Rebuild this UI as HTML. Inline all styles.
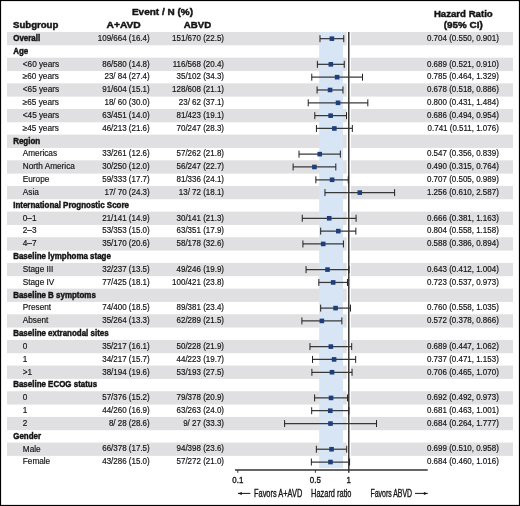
<!DOCTYPE html>
<html><head><meta charset="utf-8"><style>
html,body{margin:0;padding:0;background:#fff;}
svg text{}
body{width:520px;height:506px;position:relative;overflow:hidden;font-family:"Liberation Sans", sans-serif;}
</style></head><body>
<svg width="520" height="506" viewBox="0 0 520 506" style="position:absolute;left:0;top:0">
<rect x="7" y="32.00" width="506" height="13.30" fill="#e0e0e2"/>
<rect x="7" y="57.66" width="506" height="13.30" fill="#e0e0e2"/>
<rect x="7" y="83.32" width="506" height="13.30" fill="#e0e0e2"/>
<rect x="7" y="108.98" width="506" height="13.30" fill="#e0e0e2"/>
<rect x="7" y="134.64" width="506" height="13.30" fill="#e0e0e2"/>
<rect x="7" y="160.30" width="506" height="13.30" fill="#e0e0e2"/>
<rect x="7" y="185.96" width="506" height="13.30" fill="#e0e0e2"/>
<rect x="7" y="211.62" width="506" height="13.30" fill="#e0e0e2"/>
<rect x="7" y="237.28" width="506" height="13.30" fill="#e0e0e2"/>
<rect x="7" y="262.94" width="506" height="13.30" fill="#e0e0e2"/>
<rect x="7" y="288.60" width="506" height="13.30" fill="#e0e0e2"/>
<rect x="7" y="314.26" width="506" height="13.30" fill="#e0e0e2"/>
<rect x="7" y="339.92" width="506" height="13.30" fill="#e0e0e2"/>
<rect x="7" y="365.58" width="506" height="13.30" fill="#e0e0e2"/>
<rect x="7" y="391.24" width="506" height="13.30" fill="#e0e0e2"/>
<rect x="7" y="416.90" width="506" height="13.30" fill="#e0e0e2"/>
<rect x="7" y="442.56" width="506" height="13.30" fill="#e0e0e2"/>
<rect x="346.70" y="32.0" width="4.20" height="436.22" fill="#fff"/>
<rect x="319.18" y="32.0" width="23.79" height="436.22" fill="#d8e5f5"/>
<line x1="348.80" y1="32.0" x2="348.80" y2="472.80" stroke="#1a1a1a" stroke-width="1.3"/>
<line x1="235" y1="470" x2="427.7" y2="470" stroke="#333" stroke-width="1.5"/>
<line x1="237.80" y1="470" x2="237.80" y2="472.80" stroke="#333" stroke-width="1"/>
<line x1="315.39" y1="470" x2="315.39" y2="472.80" stroke="#333" stroke-width="1"/>
<line x1="319.98" y1="38.66" x2="343.77" y2="38.66" stroke="#383838" stroke-width="1.25"/>
<line x1="319.98" y1="35.16" x2="319.98" y2="42.16" stroke="#222" stroke-width="1.0"/>
<line x1="343.77" y1="35.16" x2="343.77" y2="42.16" stroke="#222" stroke-width="1.0"/>
<rect x="329.58" y="36.37" width="4.6" height="4.6" fill="#1f3e7c"/>
<line x1="317.37" y1="64.33" x2="344.25" y2="64.33" stroke="#383838" stroke-width="1.25"/>
<line x1="317.37" y1="60.83" x2="317.37" y2="67.83" stroke="#222" stroke-width="1.0"/>
<line x1="344.25" y1="60.83" x2="344.25" y2="67.83" stroke="#222" stroke-width="1.0"/>
<rect x="328.54" y="62.03" width="4.6" height="4.6" fill="#1f3e7c"/>
<line x1="311.78" y1="77.16" x2="362.51" y2="77.16" stroke="#383838" stroke-width="1.25"/>
<line x1="311.78" y1="73.66" x2="311.78" y2="80.66" stroke="#222" stroke-width="1.0"/>
<line x1="362.51" y1="73.66" x2="362.51" y2="80.66" stroke="#222" stroke-width="1.0"/>
<rect x="334.83" y="74.86" width="4.6" height="4.6" fill="#1f3e7c"/>
<line x1="317.09" y1="89.98" x2="342.97" y2="89.98" stroke="#383838" stroke-width="1.25"/>
<line x1="317.09" y1="86.48" x2="317.09" y2="93.48" stroke="#222" stroke-width="1.0"/>
<line x1="342.97" y1="86.48" x2="342.97" y2="93.48" stroke="#222" stroke-width="1.0"/>
<rect x="327.77" y="87.69" width="4.6" height="4.6" fill="#1f3e7c"/>
<line x1="308.23" y1="102.82" x2="367.83" y2="102.82" stroke="#383838" stroke-width="1.25"/>
<line x1="308.23" y1="99.32" x2="308.23" y2="106.32" stroke="#222" stroke-width="1.0"/>
<line x1="367.83" y1="99.32" x2="367.83" y2="106.32" stroke="#222" stroke-width="1.0"/>
<rect x="335.74" y="100.52" width="4.6" height="4.6" fill="#1f3e7c"/>
<line x1="314.80" y1="115.65" x2="346.53" y2="115.65" stroke="#383838" stroke-width="1.25"/>
<line x1="314.80" y1="112.15" x2="314.80" y2="119.15" stroke="#222" stroke-width="1.0"/>
<line x1="346.53" y1="112.15" x2="346.53" y2="119.15" stroke="#222" stroke-width="1.0"/>
<rect x="328.33" y="113.35" width="4.6" height="4.6" fill="#1f3e7c"/>
<line x1="316.43" y1="128.47" x2="352.33" y2="128.47" stroke="#383838" stroke-width="1.25"/>
<line x1="316.43" y1="124.97" x2="316.43" y2="131.97" stroke="#222" stroke-width="1.0"/>
<line x1="352.33" y1="124.97" x2="352.33" y2="131.97" stroke="#222" stroke-width="1.0"/>
<rect x="332.05" y="126.17" width="4.6" height="4.6" fill="#1f3e7c"/>
<line x1="299.01" y1="154.13" x2="340.34" y2="154.13" stroke="#383838" stroke-width="1.25"/>
<line x1="299.01" y1="150.63" x2="299.01" y2="157.63" stroke="#222" stroke-width="1.0"/>
<line x1="340.34" y1="150.63" x2="340.34" y2="157.63" stroke="#222" stroke-width="1.0"/>
<rect x="317.42" y="151.83" width="4.6" height="4.6" fill="#1f3e7c"/>
<line x1="293.11" y1="166.97" x2="335.82" y2="166.97" stroke="#383838" stroke-width="1.25"/>
<line x1="293.11" y1="163.47" x2="293.11" y2="170.47" stroke="#222" stroke-width="1.0"/>
<line x1="335.82" y1="163.47" x2="335.82" y2="170.47" stroke="#222" stroke-width="1.0"/>
<rect x="312.11" y="164.66" width="4.6" height="4.6" fill="#1f3e7c"/>
<line x1="315.87" y1="179.79" x2="348.27" y2="179.79" stroke="#383838" stroke-width="1.25"/>
<line x1="315.87" y1="176.29" x2="315.87" y2="183.29" stroke="#222" stroke-width="1.0"/>
<line x1="348.27" y1="176.29" x2="348.27" y2="183.29" stroke="#222" stroke-width="1.0"/>
<rect x="329.79" y="177.49" width="4.6" height="4.6" fill="#1f3e7c"/>
<line x1="324.97" y1="192.62" x2="394.62" y2="192.62" stroke="#383838" stroke-width="1.25"/>
<line x1="324.97" y1="189.12" x2="324.97" y2="196.12" stroke="#222" stroke-width="1.0"/>
<line x1="394.62" y1="189.12" x2="394.62" y2="196.12" stroke="#222" stroke-width="1.0"/>
<rect x="357.49" y="190.32" width="4.6" height="4.6" fill="#1f3e7c"/>
<line x1="302.28" y1="218.28" x2="356.08" y2="218.28" stroke="#383838" stroke-width="1.25"/>
<line x1="302.28" y1="214.78" x2="302.28" y2="221.78" stroke="#222" stroke-width="1.0"/>
<line x1="356.08" y1="214.78" x2="356.08" y2="221.78" stroke="#222" stroke-width="1.0"/>
<rect x="326.91" y="215.98" width="4.6" height="4.6" fill="#1f3e7c"/>
<line x1="320.68" y1="231.11" x2="355.87" y2="231.11" stroke="#383838" stroke-width="1.25"/>
<line x1="320.68" y1="227.61" x2="320.68" y2="234.61" stroke="#222" stroke-width="1.0"/>
<line x1="355.87" y1="227.61" x2="355.87" y2="234.61" stroke="#222" stroke-width="1.0"/>
<rect x="335.98" y="228.81" width="4.6" height="4.6" fill="#1f3e7c"/>
<line x1="302.91" y1="243.94" x2="343.40" y2="243.94" stroke="#383838" stroke-width="1.25"/>
<line x1="302.91" y1="240.44" x2="302.91" y2="247.44" stroke="#222" stroke-width="1.0"/>
<line x1="343.40" y1="240.44" x2="343.40" y2="247.44" stroke="#222" stroke-width="1.0"/>
<rect x="320.90" y="241.64" width="4.6" height="4.6" fill="#1f3e7c"/>
<line x1="306.05" y1="269.61" x2="348.99" y2="269.61" stroke="#383838" stroke-width="1.25"/>
<line x1="306.05" y1="266.11" x2="306.05" y2="273.11" stroke="#222" stroke-width="1.0"/>
<line x1="348.99" y1="266.11" x2="348.99" y2="273.11" stroke="#222" stroke-width="1.0"/>
<rect x="325.21" y="267.31" width="4.6" height="4.6" fill="#1f3e7c"/>
<line x1="318.83" y1="282.44" x2="347.48" y2="282.44" stroke="#383838" stroke-width="1.25"/>
<line x1="318.83" y1="278.94" x2="318.83" y2="285.94" stroke="#222" stroke-width="1.0"/>
<line x1="347.48" y1="278.94" x2="347.48" y2="285.94" stroke="#222" stroke-width="1.0"/>
<rect x="330.86" y="280.13" width="4.6" height="4.6" fill="#1f3e7c"/>
<line x1="320.68" y1="308.10" x2="350.46" y2="308.10" stroke="#383838" stroke-width="1.25"/>
<line x1="320.68" y1="304.60" x2="320.68" y2="311.60" stroke="#222" stroke-width="1.0"/>
<line x1="350.46" y1="304.60" x2="350.46" y2="311.60" stroke="#222" stroke-width="1.0"/>
<rect x="333.27" y="305.80" width="4.6" height="4.6" fill="#1f3e7c"/>
<line x1="301.90" y1="320.93" x2="341.86" y2="320.93" stroke="#383838" stroke-width="1.25"/>
<line x1="301.90" y1="317.43" x2="301.90" y2="324.43" stroke="#222" stroke-width="1.0"/>
<line x1="341.86" y1="317.43" x2="341.86" y2="324.43" stroke="#222" stroke-width="1.0"/>
<rect x="319.57" y="318.62" width="4.6" height="4.6" fill="#1f3e7c"/>
<line x1="309.98" y1="346.59" x2="351.70" y2="346.59" stroke="#383838" stroke-width="1.25"/>
<line x1="309.98" y1="343.09" x2="309.98" y2="350.09" stroke="#222" stroke-width="1.0"/>
<line x1="351.70" y1="343.09" x2="351.70" y2="350.09" stroke="#222" stroke-width="1.0"/>
<rect x="328.54" y="344.29" width="4.6" height="4.6" fill="#1f3e7c"/>
<line x1="312.51" y1="359.42" x2="355.66" y2="359.42" stroke="#383838" stroke-width="1.25"/>
<line x1="312.51" y1="355.92" x2="312.51" y2="362.92" stroke="#222" stroke-width="1.0"/>
<line x1="355.66" y1="355.92" x2="355.66" y2="362.92" stroke="#222" stroke-width="1.0"/>
<rect x="331.79" y="357.12" width="4.6" height="4.6" fill="#1f3e7c"/>
<line x1="311.89" y1="372.25" x2="352.06" y2="372.25" stroke="#383838" stroke-width="1.25"/>
<line x1="311.89" y1="368.75" x2="311.89" y2="375.75" stroke="#222" stroke-width="1.0"/>
<line x1="352.06" y1="368.75" x2="352.06" y2="375.75" stroke="#222" stroke-width="1.0"/>
<rect x="329.72" y="369.94" width="4.6" height="4.6" fill="#1f3e7c"/>
<line x1="314.61" y1="397.91" x2="347.48" y2="397.91" stroke="#383838" stroke-width="1.25"/>
<line x1="314.61" y1="394.41" x2="314.61" y2="401.41" stroke="#222" stroke-width="1.0"/>
<line x1="347.48" y1="394.41" x2="347.48" y2="401.41" stroke="#222" stroke-width="1.0"/>
<rect x="328.75" y="395.61" width="4.6" height="4.6" fill="#1f3e7c"/>
<line x1="311.68" y1="410.74" x2="348.85" y2="410.74" stroke="#383838" stroke-width="1.25"/>
<line x1="311.68" y1="407.24" x2="311.68" y2="414.24" stroke="#222" stroke-width="1.0"/>
<line x1="348.85" y1="407.24" x2="348.85" y2="414.24" stroke="#222" stroke-width="1.0"/>
<rect x="327.98" y="408.44" width="4.6" height="4.6" fill="#1f3e7c"/>
<line x1="284.60" y1="423.56" x2="376.52" y2="423.56" stroke="#383838" stroke-width="1.25"/>
<line x1="284.60" y1="420.06" x2="284.60" y2="427.06" stroke="#222" stroke-width="1.0"/>
<line x1="376.52" y1="420.06" x2="376.52" y2="427.06" stroke="#222" stroke-width="1.0"/>
<rect x="328.19" y="421.26" width="4.6" height="4.6" fill="#1f3e7c"/>
<line x1="316.34" y1="449.23" x2="346.73" y2="449.23" stroke="#383838" stroke-width="1.25"/>
<line x1="316.34" y1="445.73" x2="316.34" y2="452.73" stroke="#222" stroke-width="1.0"/>
<line x1="346.73" y1="445.73" x2="346.73" y2="452.73" stroke="#222" stroke-width="1.0"/>
<rect x="329.24" y="446.93" width="4.6" height="4.6" fill="#1f3e7c"/>
<line x1="311.37" y1="462.06" x2="349.57" y2="462.06" stroke="#383838" stroke-width="1.25"/>
<line x1="311.37" y1="458.56" x2="311.37" y2="465.56" stroke="#222" stroke-width="1.0"/>
<line x1="349.57" y1="458.56" x2="349.57" y2="465.56" stroke="#222" stroke-width="1.0"/>
<rect x="328.19" y="459.75" width="4.6" height="4.6" fill="#1f3e7c"/>
</svg>
<svg width="520" height="506" viewBox="0 0 520 506" style="position:absolute;left:0;top:0;filter:grayscale(1)">
<text x="160.84" y="14.80" transform="scale(1.0100,1)" font-family='"Liberation Sans", sans-serif' font-size="9.9" font-weight="bold" text-anchor="middle" fill="#141414" stroke="#141414" stroke-width="0.45">Event / N (%)</text>
<text x="13.37" y="28.10" transform="scale(0.9720,1)" font-family='"Liberation Sans", sans-serif' font-size="9.9" font-weight="bold" text-anchor="start" fill="#141414" stroke="#141414" stroke-width="0.45">Subgroup</text>
<text x="119.35" y="28.30" transform="scale(1.0360,1)" font-family='"Liberation Sans", sans-serif' font-size="9.9" font-weight="bold" text-anchor="middle" fill="#141414" stroke="#141414" stroke-width="0.45">A+AVD</text>
<text x="202.36" y="28.30" transform="scale(0.9760,1)" font-family='"Liberation Sans", sans-serif' font-size="9.9" font-weight="bold" text-anchor="middle" fill="#141414" stroke="#141414" stroke-width="0.45">ABVD</text>
<text x="476.65" y="16.80" transform="scale(0.9720,1)" font-family='"Liberation Sans", sans-serif' font-size="9.9" font-weight="bold" text-anchor="middle" fill="#141414" stroke="#141414" stroke-width="0.45">Hazard Ratio</text>
<text x="465.11" y="28.20" transform="scale(0.9960,1)" font-family='"Liberation Sans", sans-serif' font-size="9.9" font-weight="bold" text-anchor="middle" fill="#141414" stroke="#141414" stroke-width="0.45">(95% CI)</text>
<text x="14.43" y="40.95" transform="scale(0.9150,1)" font-family='"Liberation Sans", sans-serif' font-size="8.7" font-weight="bold" text-anchor="start" fill="#141414" stroke="#141414" stroke-width="0.45">Overall</text>
<text x="153.54" y="40.95" transform="scale(0.9750,1)" font-family='"Liberation Sans", sans-serif' font-size="8.2" font-weight="normal" text-anchor="end" fill="#141414" stroke="#141414" stroke-width="0.18">109/664 (16.4)</text>
<text x="229.74" y="40.95" transform="scale(0.9750,1)" font-family='"Liberation Sans", sans-serif' font-size="8.2" font-weight="normal" text-anchor="end" fill="#141414" stroke="#141414" stroke-width="0.18">151/670 (22.5)</text>
<text x="511.59" y="40.95" transform="scale(0.9750,1)" font-family='"Liberation Sans", sans-serif' font-size="8.2" font-weight="normal" text-anchor="end" fill="#141414" stroke="#141414" stroke-width="0.18">0.704 (0.550, 0.901)</text>
<text x="14.43" y="53.78" transform="scale(0.9150,1)" font-family='"Liberation Sans", sans-serif' font-size="8.7" font-weight="bold" text-anchor="start" fill="#141414" stroke="#141414" stroke-width="0.45">Age</text>
<text x="23.27" y="66.61" transform="scale(0.9800,1)" font-family='"Liberation Sans", sans-serif' font-size="8.4" font-weight="normal" text-anchor="start" fill="#141414" stroke="#141414" stroke-width="0.18">&lt;60 years</text>
<text x="153.54" y="66.61" transform="scale(0.9750,1)" font-family='"Liberation Sans", sans-serif' font-size="8.2" font-weight="normal" text-anchor="end" fill="#141414" stroke="#141414" stroke-width="0.18">86/580 (14.8)</text>
<text x="229.74" y="66.61" transform="scale(0.9750,1)" font-family='"Liberation Sans", sans-serif' font-size="8.2" font-weight="normal" text-anchor="end" fill="#141414" stroke="#141414" stroke-width="0.18">116/568 (20.4)</text>
<text x="511.59" y="66.61" transform="scale(0.9750,1)" font-family='"Liberation Sans", sans-serif' font-size="8.2" font-weight="normal" text-anchor="end" fill="#141414" stroke="#141414" stroke-width="0.18">0.689 (0.521, 0.910)</text>
<text x="23.27" y="79.44" transform="scale(0.9800,1)" font-family='"Liberation Sans", sans-serif' font-size="8.4" font-weight="normal" text-anchor="start" fill="#141414" stroke="#141414" stroke-width="0.18">≥60 years</text>
<text x="153.54" y="79.44" transform="scale(0.9750,1)" font-family='"Liberation Sans", sans-serif' font-size="8.2" font-weight="normal" text-anchor="end" fill="#141414" stroke="#141414" stroke-width="0.18">23/ 84 (27.4)</text>
<text x="229.74" y="79.44" transform="scale(0.9750,1)" font-family='"Liberation Sans", sans-serif' font-size="8.2" font-weight="normal" text-anchor="end" fill="#141414" stroke="#141414" stroke-width="0.18">35/102 (34.3)</text>
<text x="511.59" y="79.44" transform="scale(0.9750,1)" font-family='"Liberation Sans", sans-serif' font-size="8.2" font-weight="normal" text-anchor="end" fill="#141414" stroke="#141414" stroke-width="0.18">0.785 (0.464, 1.329)</text>
<text x="23.27" y="92.27" transform="scale(0.9800,1)" font-family='"Liberation Sans", sans-serif' font-size="8.4" font-weight="normal" text-anchor="start" fill="#141414" stroke="#141414" stroke-width="0.18">&lt;65 years</text>
<text x="153.54" y="92.27" transform="scale(0.9750,1)" font-family='"Liberation Sans", sans-serif' font-size="8.2" font-weight="normal" text-anchor="end" fill="#141414" stroke="#141414" stroke-width="0.18">91/604 (15.1)</text>
<text x="229.74" y="92.27" transform="scale(0.9750,1)" font-family='"Liberation Sans", sans-serif' font-size="8.2" font-weight="normal" text-anchor="end" fill="#141414" stroke="#141414" stroke-width="0.18">128/608 (21.1)</text>
<text x="511.59" y="92.27" transform="scale(0.9750,1)" font-family='"Liberation Sans", sans-serif' font-size="8.2" font-weight="normal" text-anchor="end" fill="#141414" stroke="#141414" stroke-width="0.18">0.678 (0.518, 0.886)</text>
<text x="23.27" y="105.10" transform="scale(0.9800,1)" font-family='"Liberation Sans", sans-serif' font-size="8.4" font-weight="normal" text-anchor="start" fill="#141414" stroke="#141414" stroke-width="0.18">≥65 years</text>
<text x="153.54" y="105.10" transform="scale(0.9750,1)" font-family='"Liberation Sans", sans-serif' font-size="8.2" font-weight="normal" text-anchor="end" fill="#141414" stroke="#141414" stroke-width="0.18">18/ 60 (30.0)</text>
<text x="229.74" y="105.10" transform="scale(0.9750,1)" font-family='"Liberation Sans", sans-serif' font-size="8.2" font-weight="normal" text-anchor="end" fill="#141414" stroke="#141414" stroke-width="0.18">23/ 62 (37.1)</text>
<text x="511.59" y="105.10" transform="scale(0.9750,1)" font-family='"Liberation Sans", sans-serif' font-size="8.2" font-weight="normal" text-anchor="end" fill="#141414" stroke="#141414" stroke-width="0.18">0.800 (0.431, 1.484)</text>
<text x="23.27" y="117.93" transform="scale(0.9800,1)" font-family='"Liberation Sans", sans-serif' font-size="8.4" font-weight="normal" text-anchor="start" fill="#141414" stroke="#141414" stroke-width="0.18">&lt;45 years</text>
<text x="153.54" y="117.93" transform="scale(0.9750,1)" font-family='"Liberation Sans", sans-serif' font-size="8.2" font-weight="normal" text-anchor="end" fill="#141414" stroke="#141414" stroke-width="0.18">63/451 (14.0)</text>
<text x="229.74" y="117.93" transform="scale(0.9750,1)" font-family='"Liberation Sans", sans-serif' font-size="8.2" font-weight="normal" text-anchor="end" fill="#141414" stroke="#141414" stroke-width="0.18">81/423 (19.1)</text>
<text x="511.59" y="117.93" transform="scale(0.9750,1)" font-family='"Liberation Sans", sans-serif' font-size="8.2" font-weight="normal" text-anchor="end" fill="#141414" stroke="#141414" stroke-width="0.18">0.686 (0.494, 0.954)</text>
<text x="23.27" y="130.76" transform="scale(0.9800,1)" font-family='"Liberation Sans", sans-serif' font-size="8.4" font-weight="normal" text-anchor="start" fill="#141414" stroke="#141414" stroke-width="0.18">≥45 years</text>
<text x="153.54" y="130.76" transform="scale(0.9750,1)" font-family='"Liberation Sans", sans-serif' font-size="8.2" font-weight="normal" text-anchor="end" fill="#141414" stroke="#141414" stroke-width="0.18">46/213 (21.6)</text>
<text x="229.74" y="130.76" transform="scale(0.9750,1)" font-family='"Liberation Sans", sans-serif' font-size="8.2" font-weight="normal" text-anchor="end" fill="#141414" stroke="#141414" stroke-width="0.18">70/247 (28.3)</text>
<text x="511.59" y="130.76" transform="scale(0.9750,1)" font-family='"Liberation Sans", sans-serif' font-size="8.2" font-weight="normal" text-anchor="end" fill="#141414" stroke="#141414" stroke-width="0.18">0.741 (0.511, 1.076)</text>
<text x="14.43" y="143.59" transform="scale(0.9150,1)" font-family='"Liberation Sans", sans-serif' font-size="8.7" font-weight="bold" text-anchor="start" fill="#141414" stroke="#141414" stroke-width="0.45">Region</text>
<text x="23.27" y="156.42" transform="scale(0.9800,1)" font-family='"Liberation Sans", sans-serif' font-size="8.4" font-weight="normal" text-anchor="start" fill="#141414" stroke="#141414" stroke-width="0.18">Americas</text>
<text x="153.54" y="156.42" transform="scale(0.9750,1)" font-family='"Liberation Sans", sans-serif' font-size="8.2" font-weight="normal" text-anchor="end" fill="#141414" stroke="#141414" stroke-width="0.18">33/261 (12.6)</text>
<text x="229.74" y="156.42" transform="scale(0.9750,1)" font-family='"Liberation Sans", sans-serif' font-size="8.2" font-weight="normal" text-anchor="end" fill="#141414" stroke="#141414" stroke-width="0.18">57/262 (21.8)</text>
<text x="511.59" y="156.42" transform="scale(0.9750,1)" font-family='"Liberation Sans", sans-serif' font-size="8.2" font-weight="normal" text-anchor="end" fill="#141414" stroke="#141414" stroke-width="0.18">0.547 (0.356, 0.839)</text>
<text x="23.27" y="169.25" transform="scale(0.9800,1)" font-family='"Liberation Sans", sans-serif' font-size="8.4" font-weight="normal" text-anchor="start" fill="#141414" stroke="#141414" stroke-width="0.18">North America</text>
<text x="153.54" y="169.25" transform="scale(0.9750,1)" font-family='"Liberation Sans", sans-serif' font-size="8.2" font-weight="normal" text-anchor="end" fill="#141414" stroke="#141414" stroke-width="0.18">30/250 (12.0)</text>
<text x="229.74" y="169.25" transform="scale(0.9750,1)" font-family='"Liberation Sans", sans-serif' font-size="8.2" font-weight="normal" text-anchor="end" fill="#141414" stroke="#141414" stroke-width="0.18">56/247 (22.7)</text>
<text x="511.59" y="169.25" transform="scale(0.9750,1)" font-family='"Liberation Sans", sans-serif' font-size="8.2" font-weight="normal" text-anchor="end" fill="#141414" stroke="#141414" stroke-width="0.18">0.490 (0.315, 0.764)</text>
<text x="23.27" y="182.08" transform="scale(0.9800,1)" font-family='"Liberation Sans", sans-serif' font-size="8.4" font-weight="normal" text-anchor="start" fill="#141414" stroke="#141414" stroke-width="0.18">Europe</text>
<text x="153.54" y="182.08" transform="scale(0.9750,1)" font-family='"Liberation Sans", sans-serif' font-size="8.2" font-weight="normal" text-anchor="end" fill="#141414" stroke="#141414" stroke-width="0.18">59/333 (17.7)</text>
<text x="229.74" y="182.08" transform="scale(0.9750,1)" font-family='"Liberation Sans", sans-serif' font-size="8.2" font-weight="normal" text-anchor="end" fill="#141414" stroke="#141414" stroke-width="0.18">81/336 (24.1)</text>
<text x="511.59" y="182.08" transform="scale(0.9750,1)" font-family='"Liberation Sans", sans-serif' font-size="8.2" font-weight="normal" text-anchor="end" fill="#141414" stroke="#141414" stroke-width="0.18">0.707 (0.505, 0.989)</text>
<text x="23.27" y="194.91" transform="scale(0.9800,1)" font-family='"Liberation Sans", sans-serif' font-size="8.4" font-weight="normal" text-anchor="start" fill="#141414" stroke="#141414" stroke-width="0.18">Asia</text>
<text x="153.54" y="194.91" transform="scale(0.9750,1)" font-family='"Liberation Sans", sans-serif' font-size="8.2" font-weight="normal" text-anchor="end" fill="#141414" stroke="#141414" stroke-width="0.18">17/ 70 (24.3)</text>
<text x="229.74" y="194.91" transform="scale(0.9750,1)" font-family='"Liberation Sans", sans-serif' font-size="8.2" font-weight="normal" text-anchor="end" fill="#141414" stroke="#141414" stroke-width="0.18">13/ 72 (18.1)</text>
<text x="511.59" y="194.91" transform="scale(0.9750,1)" font-family='"Liberation Sans", sans-serif' font-size="8.2" font-weight="normal" text-anchor="end" fill="#141414" stroke="#141414" stroke-width="0.18">1.256 (0.610, 2.587)</text>
<text x="14.43" y="207.74" transform="scale(0.9150,1)" font-family='"Liberation Sans", sans-serif' font-size="8.7" font-weight="bold" text-anchor="start" fill="#141414" stroke="#141414" stroke-width="0.45">International Prognostic Score</text>
<text x="23.27" y="220.57" transform="scale(0.9800,1)" font-family='"Liberation Sans", sans-serif' font-size="8.4" font-weight="normal" text-anchor="start" fill="#141414" stroke="#141414" stroke-width="0.18">0–1</text>
<text x="153.54" y="220.57" transform="scale(0.9750,1)" font-family='"Liberation Sans", sans-serif' font-size="8.2" font-weight="normal" text-anchor="end" fill="#141414" stroke="#141414" stroke-width="0.18">21/141 (14.9)</text>
<text x="229.74" y="220.57" transform="scale(0.9750,1)" font-family='"Liberation Sans", sans-serif' font-size="8.2" font-weight="normal" text-anchor="end" fill="#141414" stroke="#141414" stroke-width="0.18">30/141 (21.3)</text>
<text x="511.59" y="220.57" transform="scale(0.9750,1)" font-family='"Liberation Sans", sans-serif' font-size="8.2" font-weight="normal" text-anchor="end" fill="#141414" stroke="#141414" stroke-width="0.18">0.666 (0.381, 1.163)</text>
<text x="23.27" y="233.40" transform="scale(0.9800,1)" font-family='"Liberation Sans", sans-serif' font-size="8.4" font-weight="normal" text-anchor="start" fill="#141414" stroke="#141414" stroke-width="0.18">2–3</text>
<text x="153.54" y="233.40" transform="scale(0.9750,1)" font-family='"Liberation Sans", sans-serif' font-size="8.2" font-weight="normal" text-anchor="end" fill="#141414" stroke="#141414" stroke-width="0.18">53/353 (15.0)</text>
<text x="229.74" y="233.40" transform="scale(0.9750,1)" font-family='"Liberation Sans", sans-serif' font-size="8.2" font-weight="normal" text-anchor="end" fill="#141414" stroke="#141414" stroke-width="0.18">63/351 (17.9)</text>
<text x="511.59" y="233.40" transform="scale(0.9750,1)" font-family='"Liberation Sans", sans-serif' font-size="8.2" font-weight="normal" text-anchor="end" fill="#141414" stroke="#141414" stroke-width="0.18">0.804 (0.558, 1.158)</text>
<text x="23.27" y="246.23" transform="scale(0.9800,1)" font-family='"Liberation Sans", sans-serif' font-size="8.4" font-weight="normal" text-anchor="start" fill="#141414" stroke="#141414" stroke-width="0.18">4–7</text>
<text x="153.54" y="246.23" transform="scale(0.9750,1)" font-family='"Liberation Sans", sans-serif' font-size="8.2" font-weight="normal" text-anchor="end" fill="#141414" stroke="#141414" stroke-width="0.18">35/170 (20.6)</text>
<text x="229.74" y="246.23" transform="scale(0.9750,1)" font-family='"Liberation Sans", sans-serif' font-size="8.2" font-weight="normal" text-anchor="end" fill="#141414" stroke="#141414" stroke-width="0.18">58/178 (32.6)</text>
<text x="511.59" y="246.23" transform="scale(0.9750,1)" font-family='"Liberation Sans", sans-serif' font-size="8.2" font-weight="normal" text-anchor="end" fill="#141414" stroke="#141414" stroke-width="0.18">0.588 (0.386, 0.894)</text>
<text x="14.43" y="259.06" transform="scale(0.9150,1)" font-family='"Liberation Sans", sans-serif' font-size="8.7" font-weight="bold" text-anchor="start" fill="#141414" stroke="#141414" stroke-width="0.45">Baseline lymphoma stage</text>
<text x="23.27" y="271.89" transform="scale(0.9800,1)" font-family='"Liberation Sans", sans-serif' font-size="8.4" font-weight="normal" text-anchor="start" fill="#141414" stroke="#141414" stroke-width="0.18">Stage III</text>
<text x="153.54" y="271.89" transform="scale(0.9750,1)" font-family='"Liberation Sans", sans-serif' font-size="8.2" font-weight="normal" text-anchor="end" fill="#141414" stroke="#141414" stroke-width="0.18">32/237 (13.5)</text>
<text x="229.74" y="271.89" transform="scale(0.9750,1)" font-family='"Liberation Sans", sans-serif' font-size="8.2" font-weight="normal" text-anchor="end" fill="#141414" stroke="#141414" stroke-width="0.18">49/246 (19.9)</text>
<text x="511.59" y="271.89" transform="scale(0.9750,1)" font-family='"Liberation Sans", sans-serif' font-size="8.2" font-weight="normal" text-anchor="end" fill="#141414" stroke="#141414" stroke-width="0.18">0.643 (0.412, 1.004)</text>
<text x="23.27" y="284.72" transform="scale(0.9800,1)" font-family='"Liberation Sans", sans-serif' font-size="8.4" font-weight="normal" text-anchor="start" fill="#141414" stroke="#141414" stroke-width="0.18">Stage IV</text>
<text x="153.54" y="284.72" transform="scale(0.9750,1)" font-family='"Liberation Sans", sans-serif' font-size="8.2" font-weight="normal" text-anchor="end" fill="#141414" stroke="#141414" stroke-width="0.18">77/425 (18.1)</text>
<text x="229.74" y="284.72" transform="scale(0.9750,1)" font-family='"Liberation Sans", sans-serif' font-size="8.2" font-weight="normal" text-anchor="end" fill="#141414" stroke="#141414" stroke-width="0.18">100/421 (23.8)</text>
<text x="511.59" y="284.72" transform="scale(0.9750,1)" font-family='"Liberation Sans", sans-serif' font-size="8.2" font-weight="normal" text-anchor="end" fill="#141414" stroke="#141414" stroke-width="0.18">0.723 (0.537, 0.973)</text>
<text x="14.43" y="297.55" transform="scale(0.9150,1)" font-family='"Liberation Sans", sans-serif' font-size="8.7" font-weight="bold" text-anchor="start" fill="#141414" stroke="#141414" stroke-width="0.45">Baseline B symptoms</text>
<text x="23.27" y="310.38" transform="scale(0.9800,1)" font-family='"Liberation Sans", sans-serif' font-size="8.4" font-weight="normal" text-anchor="start" fill="#141414" stroke="#141414" stroke-width="0.18">Present</text>
<text x="153.54" y="310.38" transform="scale(0.9750,1)" font-family='"Liberation Sans", sans-serif' font-size="8.2" font-weight="normal" text-anchor="end" fill="#141414" stroke="#141414" stroke-width="0.18">74/400 (18.5)</text>
<text x="229.74" y="310.38" transform="scale(0.9750,1)" font-family='"Liberation Sans", sans-serif' font-size="8.2" font-weight="normal" text-anchor="end" fill="#141414" stroke="#141414" stroke-width="0.18">89/381 (23.4)</text>
<text x="511.59" y="310.38" transform="scale(0.9750,1)" font-family='"Liberation Sans", sans-serif' font-size="8.2" font-weight="normal" text-anchor="end" fill="#141414" stroke="#141414" stroke-width="0.18">0.760 (0.558, 1.035)</text>
<text x="23.27" y="323.21" transform="scale(0.9800,1)" font-family='"Liberation Sans", sans-serif' font-size="8.4" font-weight="normal" text-anchor="start" fill="#141414" stroke="#141414" stroke-width="0.18">Absent</text>
<text x="153.54" y="323.21" transform="scale(0.9750,1)" font-family='"Liberation Sans", sans-serif' font-size="8.2" font-weight="normal" text-anchor="end" fill="#141414" stroke="#141414" stroke-width="0.18">35/264 (13.3)</text>
<text x="229.74" y="323.21" transform="scale(0.9750,1)" font-family='"Liberation Sans", sans-serif' font-size="8.2" font-weight="normal" text-anchor="end" fill="#141414" stroke="#141414" stroke-width="0.18">62/289 (21.5)</text>
<text x="511.59" y="323.21" transform="scale(0.9750,1)" font-family='"Liberation Sans", sans-serif' font-size="8.2" font-weight="normal" text-anchor="end" fill="#141414" stroke="#141414" stroke-width="0.18">0.572 (0.378, 0.866)</text>
<text x="14.43" y="336.04" transform="scale(0.9150,1)" font-family='"Liberation Sans", sans-serif' font-size="8.7" font-weight="bold" text-anchor="start" fill="#141414" stroke="#141414" stroke-width="0.45">Baseline extranodal sites</text>
<text x="23.27" y="348.87" transform="scale(0.9800,1)" font-family='"Liberation Sans", sans-serif' font-size="8.4" font-weight="normal" text-anchor="start" fill="#141414" stroke="#141414" stroke-width="0.18">0</text>
<text x="153.54" y="348.87" transform="scale(0.9750,1)" font-family='"Liberation Sans", sans-serif' font-size="8.2" font-weight="normal" text-anchor="end" fill="#141414" stroke="#141414" stroke-width="0.18">35/217 (16.1)</text>
<text x="229.74" y="348.87" transform="scale(0.9750,1)" font-family='"Liberation Sans", sans-serif' font-size="8.2" font-weight="normal" text-anchor="end" fill="#141414" stroke="#141414" stroke-width="0.18">50/228 (21.9)</text>
<text x="511.59" y="348.87" transform="scale(0.9750,1)" font-family='"Liberation Sans", sans-serif' font-size="8.2" font-weight="normal" text-anchor="end" fill="#141414" stroke="#141414" stroke-width="0.18">0.689 (0.447, 1.062)</text>
<text x="23.27" y="361.70" transform="scale(0.9800,1)" font-family='"Liberation Sans", sans-serif' font-size="8.4" font-weight="normal" text-anchor="start" fill="#141414" stroke="#141414" stroke-width="0.18">1</text>
<text x="153.54" y="361.70" transform="scale(0.9750,1)" font-family='"Liberation Sans", sans-serif' font-size="8.2" font-weight="normal" text-anchor="end" fill="#141414" stroke="#141414" stroke-width="0.18">34/217 (15.7)</text>
<text x="229.74" y="361.70" transform="scale(0.9750,1)" font-family='"Liberation Sans", sans-serif' font-size="8.2" font-weight="normal" text-anchor="end" fill="#141414" stroke="#141414" stroke-width="0.18">44/223 (19.7)</text>
<text x="511.59" y="361.70" transform="scale(0.9750,1)" font-family='"Liberation Sans", sans-serif' font-size="8.2" font-weight="normal" text-anchor="end" fill="#141414" stroke="#141414" stroke-width="0.18">0.737 (0.471, 1.153)</text>
<text x="23.27" y="374.53" transform="scale(0.9800,1)" font-family='"Liberation Sans", sans-serif' font-size="8.4" font-weight="normal" text-anchor="start" fill="#141414" stroke="#141414" stroke-width="0.18">&gt;1</text>
<text x="153.54" y="374.53" transform="scale(0.9750,1)" font-family='"Liberation Sans", sans-serif' font-size="8.2" font-weight="normal" text-anchor="end" fill="#141414" stroke="#141414" stroke-width="0.18">38/194 (19.6)</text>
<text x="229.74" y="374.53" transform="scale(0.9750,1)" font-family='"Liberation Sans", sans-serif' font-size="8.2" font-weight="normal" text-anchor="end" fill="#141414" stroke="#141414" stroke-width="0.18">53/193 (27.5)</text>
<text x="511.59" y="374.53" transform="scale(0.9750,1)" font-family='"Liberation Sans", sans-serif' font-size="8.2" font-weight="normal" text-anchor="end" fill="#141414" stroke="#141414" stroke-width="0.18">0.706 (0.465, 1.070)</text>
<text x="14.43" y="387.36" transform="scale(0.9150,1)" font-family='"Liberation Sans", sans-serif' font-size="8.7" font-weight="bold" text-anchor="start" fill="#141414" stroke="#141414" stroke-width="0.45">Baseline ECOG status</text>
<text x="23.27" y="400.19" transform="scale(0.9800,1)" font-family='"Liberation Sans", sans-serif' font-size="8.4" font-weight="normal" text-anchor="start" fill="#141414" stroke="#141414" stroke-width="0.18">0</text>
<text x="153.54" y="400.19" transform="scale(0.9750,1)" font-family='"Liberation Sans", sans-serif' font-size="8.2" font-weight="normal" text-anchor="end" fill="#141414" stroke="#141414" stroke-width="0.18">57/376 (15.2)</text>
<text x="229.74" y="400.19" transform="scale(0.9750,1)" font-family='"Liberation Sans", sans-serif' font-size="8.2" font-weight="normal" text-anchor="end" fill="#141414" stroke="#141414" stroke-width="0.18">79/378 (20.9)</text>
<text x="511.59" y="400.19" transform="scale(0.9750,1)" font-family='"Liberation Sans", sans-serif' font-size="8.2" font-weight="normal" text-anchor="end" fill="#141414" stroke="#141414" stroke-width="0.18">0.692 (0.492, 0.973)</text>
<text x="23.27" y="413.02" transform="scale(0.9800,1)" font-family='"Liberation Sans", sans-serif' font-size="8.4" font-weight="normal" text-anchor="start" fill="#141414" stroke="#141414" stroke-width="0.18">1</text>
<text x="153.54" y="413.02" transform="scale(0.9750,1)" font-family='"Liberation Sans", sans-serif' font-size="8.2" font-weight="normal" text-anchor="end" fill="#141414" stroke="#141414" stroke-width="0.18">44/260 (16.9)</text>
<text x="229.74" y="413.02" transform="scale(0.9750,1)" font-family='"Liberation Sans", sans-serif' font-size="8.2" font-weight="normal" text-anchor="end" fill="#141414" stroke="#141414" stroke-width="0.18">63/263 (24.0)</text>
<text x="511.59" y="413.02" transform="scale(0.9750,1)" font-family='"Liberation Sans", sans-serif' font-size="8.2" font-weight="normal" text-anchor="end" fill="#141414" stroke="#141414" stroke-width="0.18">0.681 (0.463, 1.001)</text>
<text x="23.27" y="425.85" transform="scale(0.9800,1)" font-family='"Liberation Sans", sans-serif' font-size="8.4" font-weight="normal" text-anchor="start" fill="#141414" stroke="#141414" stroke-width="0.18">2</text>
<text x="153.54" y="425.85" transform="scale(0.9750,1)" font-family='"Liberation Sans", sans-serif' font-size="8.2" font-weight="normal" text-anchor="end" fill="#141414" stroke="#141414" stroke-width="0.18">8/ 28 (28.6)</text>
<text x="229.74" y="425.85" transform="scale(0.9750,1)" font-family='"Liberation Sans", sans-serif' font-size="8.2" font-weight="normal" text-anchor="end" fill="#141414" stroke="#141414" stroke-width="0.18">9/ 27 (33.3)</text>
<text x="511.59" y="425.85" transform="scale(0.9750,1)" font-family='"Liberation Sans", sans-serif' font-size="8.2" font-weight="normal" text-anchor="end" fill="#141414" stroke="#141414" stroke-width="0.18">0.684 (0.264, 1.777)</text>
<text x="14.43" y="438.68" transform="scale(0.9150,1)" font-family='"Liberation Sans", sans-serif' font-size="8.7" font-weight="bold" text-anchor="start" fill="#141414" stroke="#141414" stroke-width="0.45">Gender</text>
<text x="23.27" y="451.51" transform="scale(0.9800,1)" font-family='"Liberation Sans", sans-serif' font-size="8.4" font-weight="normal" text-anchor="start" fill="#141414" stroke="#141414" stroke-width="0.18">Male</text>
<text x="153.54" y="451.51" transform="scale(0.9750,1)" font-family='"Liberation Sans", sans-serif' font-size="8.2" font-weight="normal" text-anchor="end" fill="#141414" stroke="#141414" stroke-width="0.18">66/378 (17.5)</text>
<text x="229.74" y="451.51" transform="scale(0.9750,1)" font-family='"Liberation Sans", sans-serif' font-size="8.2" font-weight="normal" text-anchor="end" fill="#141414" stroke="#141414" stroke-width="0.18">94/398 (23.6)</text>
<text x="511.59" y="451.51" transform="scale(0.9750,1)" font-family='"Liberation Sans", sans-serif' font-size="8.2" font-weight="normal" text-anchor="end" fill="#141414" stroke="#141414" stroke-width="0.18">0.699 (0.510, 0.958)</text>
<text x="23.27" y="464.34" transform="scale(0.9800,1)" font-family='"Liberation Sans", sans-serif' font-size="8.4" font-weight="normal" text-anchor="start" fill="#141414" stroke="#141414" stroke-width="0.18">Female</text>
<text x="153.54" y="464.34" transform="scale(0.9750,1)" font-family='"Liberation Sans", sans-serif' font-size="8.2" font-weight="normal" text-anchor="end" fill="#141414" stroke="#141414" stroke-width="0.18">43/286 (15.0)</text>
<text x="229.74" y="464.34" transform="scale(0.9750,1)" font-family='"Liberation Sans", sans-serif' font-size="8.2" font-weight="normal" text-anchor="end" fill="#141414" stroke="#141414" stroke-width="0.18">57/272 (21.0)</text>
<text x="511.59" y="464.34" transform="scale(0.9750,1)" font-family='"Liberation Sans", sans-serif' font-size="8.2" font-weight="normal" text-anchor="end" fill="#141414" stroke="#141414" stroke-width="0.18">0.684 (0.460, 1.016)</text>
<text x="270.23" y="483.30" transform="scale(0.8800,1)" font-family='"Liberation Sans", sans-serif' font-size="9.0" font-weight="normal" text-anchor="middle" fill="#141414" stroke="#141414" stroke-width="0.35">0.1</text>
<text x="358.39" y="483.30" transform="scale(0.8800,1)" font-family='"Liberation Sans", sans-serif' font-size="9.0" font-weight="normal" text-anchor="middle" fill="#141414" stroke="#141414" stroke-width="0.35">0.5</text>
<text x="396.36" y="483.30" transform="scale(0.8800,1)" font-family='"Liberation Sans", sans-serif' font-size="9.0" font-weight="normal" text-anchor="middle" fill="#141414" stroke="#141414" stroke-width="0.35">1</text>
<text x="352.78" y="496.60" transform="scale(0.7200,1)" font-family='"Liberation Sans", sans-serif' font-size="10.3" font-weight="normal" text-anchor="start" fill="#141414" stroke="#141414" stroke-width="0.35">Favors A+AVD</text>
<text x="432.08" y="496.60" transform="scale(0.7200,1)" font-family='"Liberation Sans", sans-serif' font-size="10.3" font-weight="normal" text-anchor="start" fill="#141414" stroke="#141414" stroke-width="0.35">Hazard ratio</text>
<text x="548.89" y="496.60" transform="scale(0.6750,1)" font-family='"Liberation Sans", sans-serif' font-size="10.3" font-weight="normal" text-anchor="start" fill="#141414" stroke="#141414" stroke-width="0.35">Favors ABVD</text>
<line x1="238.0" y1="493.4" x2="250.4" y2="493.4" stroke="#141414" stroke-width="1.0"/>
<path d="M238.00,493.4 L241.80,491.90 L241.80,494.90 Z" fill="#141414"/>
<line x1="415.0" y1="493.4" x2="427.7" y2="493.4" stroke="#141414" stroke-width="1.0"/>
<path d="M427.70,493.4 L423.90,491.90 L423.90,494.90 Z" fill="#141414"/>
<rect x="0.55" y="0.55" width="518.9" height="504.9" fill="none" stroke="#000" stroke-width="1.1"/>
</svg>
</body></html>
